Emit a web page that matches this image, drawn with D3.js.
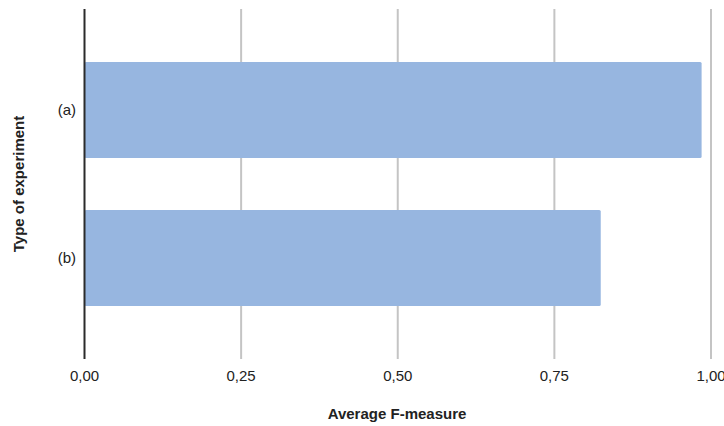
<!DOCTYPE html>
<html><head><meta charset="utf-8">
<script src="https://cdn.jsdelivr.net/npm/d3@7"></script>
<style>body{margin:0;background:#fff}svg{display:block}</style>
</head><body>
<script>
const categories = ["(a)", "(b)"];
const values = [0.985, 0.824];
const ticks = [0, 0.25, 0.5, 0.75, 1.0];
const tickLabels = ["0,00", "0,25", "0,50", "0,75", "1,00"];

const W = 724, H = 426;
const svg = d3.select("body").append("svg").attr("width", W).attr("height", H);
const x = d3.scaleLinear().domain([0, 1]).range([84.5, 711]);
const y = d3.scaleBand().domain(categories).range([9, 359]).paddingInner(0.351).paddingOuter(0.358);
const font = "Arial, 'Liberation Sans', sans-serif";

// gridlines
svg.append("g").selectAll("line").data(ticks.slice(1)).join("line")
  .attr("x1", d => x(d)).attr("x2", d => x(d))
  .attr("y1", 9).attr("y2", 359)
  .attr("stroke", "#c4c4c4").attr("stroke-width", 2);

// bars
svg.append("g").selectAll("rect").data(categories).join("rect")
  .attr("x", x(0)).attr("y", d => y(d))
  .attr("width", (d, i) => x(values[i]) - x(0))
  .attr("height", y.bandwidth())
  .attr("rx", 1.5)
  .attr("fill", "#97b6e0");

// zero axis line
svg.append("line").attr("x1", x(0)).attr("x2", x(0)).attr("y1", 9).attr("y2", 359)
  .attr("stroke", "#2b2b2b").attr("stroke-width", 2);

// x tick labels
svg.append("g").selectAll("text").data(ticks).join("text")
  .attr("x", d => x(d)).attr("y", 381)
  .attr("text-anchor", "middle")
  .attr("font-family", font).attr("font-size", 15).attr("fill", "#222")
  .text((d, i) => tickLabels[i]);

// y category labels
svg.append("g").selectAll("text").data(categories).join("text")
  .attr("x", 76).attr("y", d => y(d) + y.bandwidth() / 2 + 5)
  .attr("text-anchor", "end")
  .attr("font-family", font).attr("font-size", 15).attr("fill", "#222")
  .text(d => d);

// axis titles
svg.append("text").attr("x", 397).attr("y", 419).attr("text-anchor", "middle")
  .attr("font-family", font).attr("font-size", 15).attr("font-weight", "bold").attr("fill", "#222")
  .text("Average F-measure");
svg.append("text").attr("transform", "translate(24,184) rotate(-90)").attr("text-anchor", "middle")
  .attr("font-family", font).attr("font-size", 15).attr("font-weight", "bold").attr("fill", "#222")
  .text("Type of experiment");
</script>
</body></html>
